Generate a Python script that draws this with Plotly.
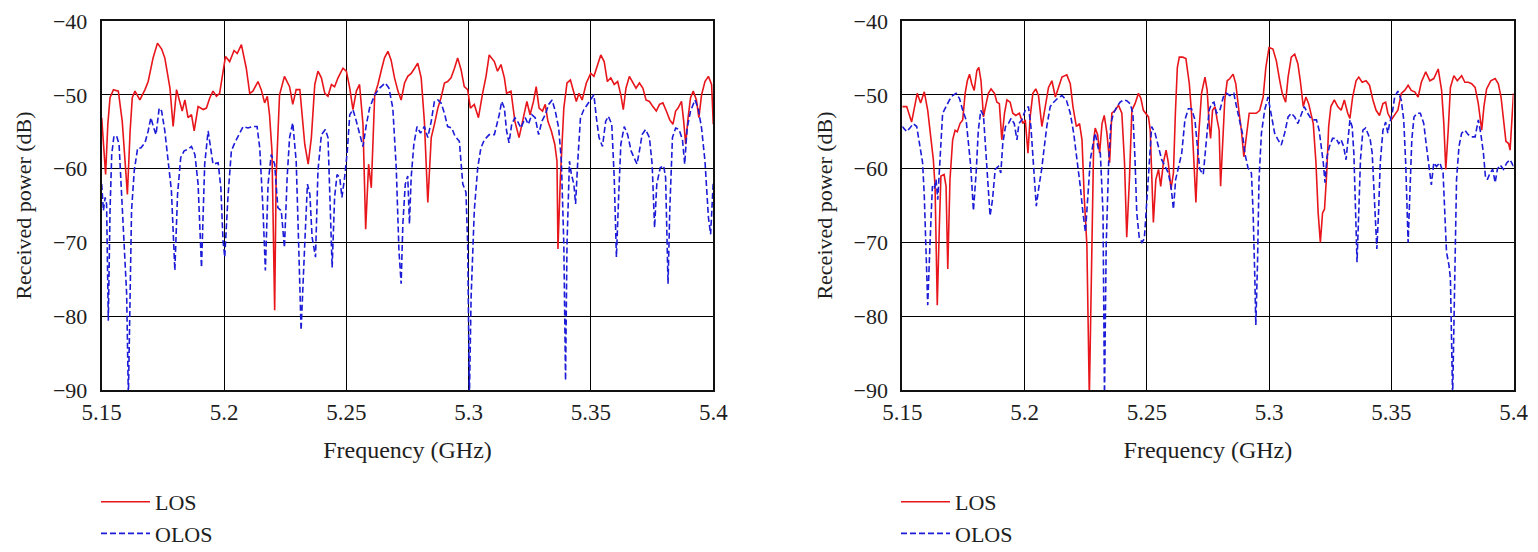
import plotly.graph_objects as go

# ---------------- data (frequency in GHz, received power in dB) ----------------
left_los_f = [5.1500, 5.1508, 5.1516, 5.1525, 5.1534, 5.1548, 5.1568, 5.1584, 5.1605, 5.1616,
              5.1625, 5.1636, 5.1656, 5.1677, 5.1690, 5.1710, 5.1728, 5.1745, 5.1758, 5.1779,
              5.1792, 5.1806, 5.1819, 5.1829, 5.1840, 5.1853, 5.1867, 5.1878, 5.1894, 5.1915,
              5.1928, 5.1942, 5.1955, 5.1969, 5.1982, 5.1996, 5.2006, 5.2023, 5.2041, 5.2054,
              5.2071, 5.2091, 5.2105, 5.2118, 5.2139, 5.2152, 5.2166, 5.2177, 5.2186, 5.2196,
              5.2207, 5.2213, 5.2227, 5.2247, 5.2268, 5.2281, 5.2295, 5.2310, 5.2317, 5.2330,
              5.2344, 5.2357, 5.2371, 5.2384, 5.2398, 5.2412, 5.2425, 5.2439, 5.2452, 5.2466,
              5.2486, 5.2500, 5.2514, 5.2527, 5.2541, 5.2554, 5.2568, 5.2579, 5.2591, 5.2602,
              5.2616, 5.2629, 5.2645, 5.2656, 5.2670, 5.2683, 5.2697, 5.2711, 5.2724, 5.2738,
              5.2751, 5.2765, 5.2779, 5.2792, 5.2806, 5.2819, 5.2833, 5.2847, 5.2860, 5.2874,
              5.2887, 5.2901, 5.2914, 5.2928, 5.2942, 5.2955, 5.2969, 5.2982, 5.2996, 5.3007,
              5.3023, 5.3040, 5.3057, 5.3071, 5.3084, 5.3105, 5.3118, 5.3132, 5.3146, 5.3155,
              5.3173, 5.3189, 5.3206, 5.3220, 5.3238, 5.3251, 5.3265, 5.3276, 5.3288, 5.3302,
              5.3313, 5.3324, 5.3338, 5.3352, 5.3361, 5.3365, 5.3375, 5.3389, 5.3402, 5.3416,
              5.3430, 5.3440, 5.3451, 5.3464, 5.3481, 5.3499, 5.3512, 5.3526, 5.3540, 5.3554,
              5.3567, 5.3581, 5.3595, 5.3609, 5.3622, 5.3632, 5.3643, 5.3657, 5.3670, 5.3684,
              5.3698, 5.3712, 5.3725, 5.3739, 5.3753, 5.3767, 5.3780, 5.3794, 5.3808, 5.3822,
              5.3835, 5.3846, 5.3856, 5.3870, 5.3879, 5.3887, 5.3897, 5.3907, 5.3918, 5.3931,
              5.3941, 5.3952, 5.3966, 5.3980, 5.3993, 5.4000]
left_los_db = [-53.1, -57.0, -60.8, -54.0, -50.4, -49.3, -49.5, -53.6, -63.5, -55.0,
               -50.4, -49.5, -50.7, -49.3, -48.2, -45.0, -43.0, -43.8, -45.0, -49.1,
               -54.3, -49.3, -50.9, -52.2, -50.7, -53.1, -52.7, -54.9, -51.6, -52.0,
               -51.8, -50.4, -49.5, -50.2, -49.8, -46.8, -44.8, -45.5, -44.0, -44.4,
               -43.2, -46.4, -49.8, -49.5, -48.2, -49.3, -51.1, -50.2, -52.7, -57.6,
               -79.2, -61.2, -50.0, -47.5, -48.9, -51.3, -49.3, -49.3, -52.2, -56.7,
               -59.4, -55.8, -48.6, -46.8, -47.7, -49.8, -50.2, -48.6, -48.9, -47.7,
               -46.4, -46.8, -49.1, -52.0, -49.5, -48.6, -54.0, -68.2, -59.4, -62.6,
               -50.0, -48.6, -46.4, -45.0, -44.1, -45.3, -47.7, -49.5, -50.7, -48.4,
               -47.5, -47.1, -46.4, -45.7, -47.7, -53.6, -64.6, -55.8, -54.0, -51.8,
               -50.4, -48.4, -48.2, -47.7, -46.4, -45.0, -46.6, -48.9, -49.3, -51.8,
               -51.3, -53.1, -49.8, -47.5, -44.6, -45.5, -46.8, -45.9, -47.7, -49.8,
               -49.5, -53.6, -55.8, -53.6, -50.9, -52.7, -50.9, -48.9, -51.8, -52.2,
               -51.3, -53.6, -54.9, -56.7, -59.0, -70.9, -61.2, -51.8, -48.4, -48.0,
               -49.5, -50.9, -49.8, -50.7, -48.4, -47.1, -47.5, -46.2, -44.6, -45.5,
               -48.2, -47.7, -48.6, -48.2, -50.0, -52.0, -49.1, -47.5, -48.2, -49.1,
               -48.4, -49.1, -50.7, -50.9, -51.6, -52.2, -51.3, -51.1, -52.2, -53.4,
               -54.0, -52.2, -51.8, -50.9, -53.6, -56.7, -53.1, -50.4, -49.5, -50.7,
               -53.1, -50.0, -48.2, -47.5, -48.6, -54.0]

left_olos_f = [5.1500, 5.1507, 5.1514, 5.1520, 5.1527, 5.1534, 5.1541, 5.1550, 5.1561, 5.1571,
               5.1582, 5.1592, 5.1602, 5.1609, 5.1616, 5.1622, 5.1633, 5.1647, 5.1660, 5.1677,
               5.1690, 5.1701, 5.1711, 5.1722, 5.1735, 5.1745, 5.1758, 5.1772, 5.1785, 5.1799,
               5.1810, 5.1823, 5.1837, 5.1851, 5.1867, 5.1881, 5.1894, 5.1908, 5.1921, 5.1935,
               5.1944, 5.1955, 5.1976, 5.1987, 5.1996, 5.2003, 5.2016, 5.2030, 5.2044, 5.2060,
               5.2078, 5.2098, 5.2118, 5.2135, 5.2146, 5.2159, 5.2169, 5.2180, 5.2193, 5.2207,
               5.2220, 5.2234, 5.2247, 5.2258, 5.2268, 5.2281, 5.2295, 5.2305, 5.2315, 5.2330,
               5.2341, 5.2351, 5.2360, 5.2374, 5.2384, 5.2398, 5.2414, 5.2425, 5.2433, 5.2442,
               5.2452, 5.2462, 5.2473, 5.2482, 5.2493, 5.2504, 5.2514, 5.2527, 5.2541, 5.2554,
               5.2568, 5.2582, 5.2595, 5.2616, 5.2636, 5.2659, 5.2674, 5.2690, 5.2704, 5.2715,
               5.2724, 5.2731, 5.2741, 5.2751, 5.2758, 5.2765, 5.2776, 5.2789, 5.2803, 5.2819,
               5.2833, 5.2847, 5.2860, 5.2874, 5.2887, 5.2901, 5.2914, 5.2931, 5.2944, 5.2962,
               5.2976, 5.2989, 5.2996, 5.3003, 5.3010, 5.3023, 5.3037, 5.3050, 5.3064, 5.3084,
               5.3105, 5.3125, 5.3135, 5.3146, 5.3155, 5.3165, 5.3176, 5.3189, 5.3200, 5.3214,
               5.3231, 5.3244, 5.3258, 5.3272, 5.3286, 5.3299, 5.3313, 5.3327, 5.3341, 5.3354,
               5.3368, 5.3379, 5.3389, 5.3396, 5.3402, 5.3412, 5.3420, 5.3430, 5.3437, 5.3446,
               5.3457, 5.3471, 5.3485, 5.3503, 5.3512, 5.3522, 5.3533, 5.3547, 5.3560, 5.3571,
               5.3585, 5.3595, 5.3604, 5.3613, 5.3622, 5.3636, 5.3650, 5.3664, 5.3677, 5.3688,
               5.3698, 5.3709, 5.3723, 5.3739, 5.3750, 5.3760, 5.3769, 5.3783, 5.3797, 5.3805,
               5.3815, 5.3822, 5.3833, 5.3846, 5.3860, 5.3874, 5.3883, 5.3893, 5.3907, 5.3925,
               5.3938, 5.3952, 5.3966, 5.3980, 5.3989, 5.4000]
left_olos_db = [-62.1, -65.7, -63.9, -64.8, -80.6, -65.7, -58.1, -55.6, -55.6, -56.7,
                -63.9, -70.2, -77.0, -91.0, -74.7, -65.7, -60.3, -57.2, -57.2, -56.5,
                -54.9, -53.1, -54.3, -55.4, -51.8, -52.2, -54.9, -59.0, -63.0, -73.8,
                -63.5, -58.5, -57.6, -57.4, -57.0, -58.1, -62.1, -73.4, -59.4, -54.9,
                -56.7, -59.4, -59.2, -62.6, -69.8, -72.0, -63.9, -57.6, -56.5, -55.4,
                -54.3, -54.5, -54.3, -54.3, -57.2, -65.3, -73.8, -62.1, -58.1, -59.4,
                -65.3, -65.7, -70.7, -61.2, -55.8, -53.8, -59.0, -70.2, -81.9, -70.2,
                -62.1, -63.5, -69.3, -72.0, -60.3, -55.4, -54.7, -55.8, -63.5, -73.4,
                -63.9, -60.8, -61.2, -63.9, -61.2, -57.6, -52.7, -52.0, -53.6, -55.4,
                -57.0, -54.0, -51.8, -50.0, -49.1, -48.4, -49.1, -51.8, -59.9, -71.1,
                -75.6, -67.5, -62.1, -61.0, -67.5, -61.2, -56.7, -54.3, -55.2, -54.3,
                -55.8, -53.6, -50.9, -50.7, -51.1, -52.5, -54.3, -54.5, -55.6, -56.3,
                -62.1, -63.2, -70.2, -91.0, -77.4, -65.7, -59.9, -57.2, -56.1, -55.4,
                -55.4, -52.7, -50.9, -51.8, -54.9, -56.5, -54.0, -53.1, -53.6, -54.5,
                -53.1, -54.0, -52.7, -53.1, -55.4, -53.6, -52.7, -51.3, -50.7, -52.2,
                -54.5, -59.0, -70.2, -88.7, -70.2, -59.0, -60.8, -62.1, -64.8, -59.0,
                -53.1, -52.0, -51.3, -50.4, -50.0, -53.1, -55.8, -57.0, -53.6, -52.9,
                -54.0, -61.2, -72.0, -63.9, -56.7, -54.3, -55.4, -57.6, -58.7, -59.4,
                -57.6, -55.4, -54.7, -55.8, -59.4, -68.0, -62.1, -59.9, -59.6, -61.2,
                -75.6, -65.7, -55.8, -54.5, -54.7, -56.1, -59.4, -54.5, -52.2, -50.7,
                -51.8, -54.5, -59.0, -66.6, -68.9, -61.7]

right_los_f = [5.1500, 5.1518, 5.1538, 5.1549, 5.1561, 5.1575, 5.1590, 5.1604, 5.1616, 5.1627,
               5.1634, 5.1638, 5.1643, 5.1652, 5.1658, 5.1671, 5.1679, 5.1686, 5.1695, 5.1706,
               5.1716, 5.1725, 5.1736, 5.1747, 5.1757, 5.1766, 5.1775, 5.1784, 5.1794, 5.1805,
               5.1813, 5.1822, 5.1832, 5.1843, 5.1852, 5.1863, 5.1877, 5.1887, 5.1897, 5.1907,
               5.1918, 5.1928, 5.1941, 5.1952, 5.1964, 5.1979, 5.1993, 5.2003, 5.2014, 5.2023,
               5.2034, 5.2046, 5.2057, 5.2071, 5.2085, 5.2098, 5.2112, 5.2126, 5.2139, 5.2153,
               5.2173, 5.2187, 5.2198, 5.2212, 5.2225, 5.2235, 5.2244, 5.2255, 5.2265, 5.2276,
               5.2283, 5.2289, 5.2299, 5.2307, 5.2317, 5.2326, 5.2337, 5.2348, 5.2357, 5.2371,
               5.2384, 5.2398, 5.2409, 5.2418, 5.2429, 5.2439, 5.2452, 5.2466, 5.2476, 5.2486,
               5.2497, 5.2507, 5.2514, 5.2520, 5.2527, 5.2537, 5.2548, 5.2557, 5.2568, 5.2579,
               5.2588, 5.2599, 5.2609, 5.2617, 5.2625, 5.2633, 5.2647, 5.2660, 5.2674, 5.2683,
               5.2693, 5.2701, 5.2711, 5.2724, 5.2738, 5.2747, 5.2755, 5.2761, 5.2769, 5.2779,
               5.2788, 5.2796, 5.2802, 5.2810, 5.2819, 5.2829, 5.2840, 5.2853, 5.2864, 5.2878,
               5.2887, 5.2897, 5.2908, 5.2919, 5.2935, 5.2948, 5.2962, 5.2976, 5.2987, 5.3000,
               5.3016, 5.3030, 5.3044, 5.3054, 5.3068, 5.3078, 5.3091, 5.3105, 5.3118, 5.3128,
               5.3140, 5.3151, 5.3162, 5.3171, 5.3181, 5.3192, 5.3201, 5.3210, 5.3219, 5.3227,
               5.3236, 5.3244, 5.3253, 5.3267, 5.3281, 5.3295, 5.3308, 5.3322, 5.3331, 5.3342,
               5.3356, 5.3367, 5.3381, 5.3397, 5.3411, 5.3425, 5.3438, 5.3452, 5.3466, 5.3477,
               5.3486, 5.3500, 5.3514, 5.3527, 5.3541, 5.3555, 5.3569, 5.3582, 5.3596, 5.3610,
               5.3623, 5.3641, 5.3658, 5.3674, 5.3692, 5.3706, 5.3715, 5.3723, 5.3733, 5.3742,
               5.3756, 5.3770, 5.3788, 5.3801, 5.3815, 5.3829, 5.3843, 5.3856, 5.3870, 5.3879,
               5.3890, 5.3907, 5.3925, 5.3938, 5.3949, 5.3959, 5.3969, 5.3980, 5.3986, 5.4000]
right_los_db = [-51.6, -51.6, -53.7, -51.6, -49.8, -51.1, -49.6, -52.1, -55.2, -58.8,
                -62.4, -68.2, -78.5, -67.3, -61.0, -60.8, -62.4, -73.6, -61.5, -56.1,
                -54.8, -55.0, -53.9, -53.4, -49.8, -48.1, -47.2, -48.5, -49.4, -46.7,
                -46.3, -48.1, -53.0, -51.2, -49.8, -49.2, -49.8, -51.0, -51.2, -56.1,
                -52.5, -50.7, -51.0, -52.5, -52.8, -52.5, -53.9, -53.4, -57.9, -53.0,
                -49.8, -49.2, -50.1, -54.3, -51.2, -49.0, -48.1, -50.3, -49.0, -47.6,
                -47.3, -48.5, -51.6, -54.3, -53.9, -56.1, -63.7, -70.4, -91.0, -66.0,
                -56.1, -54.5, -55.4, -57.9, -53.9, -52.8, -55.2, -59.2, -52.5, -52.1,
                -51.4, -52.5, -59.2, -69.3, -61.5, -52.1, -51.2, -49.8, -50.5, -52.1,
                -52.5, -53.0, -54.8, -61.5, -67.3, -61.5, -60.1, -62.4, -59.2, -57.5,
                -59.2, -62.8, -60.6, -52.5, -46.3, -44.9, -44.9, -45.1, -48.5, -52.5,
                -59.2, -64.6, -56.1, -49.8, -47.6, -49.4, -53.9, -55.9, -52.1, -51.6,
                -53.4, -54.8, -62.4, -56.1, -50.7, -48.1, -47.8, -47.2, -48.5, -52.5,
                -54.8, -58.4, -55.2, -52.5, -52.5, -52.5, -52.1, -50.3, -46.3, -43.6,
                -43.8, -45.4, -48.1, -49.8, -51.0, -47.6, -44.9, -44.5, -45.8, -48.1,
                -51.6, -50.3, -51.2, -52.5, -53.9, -59.2, -66.0, -70.0, -66.0, -65.5,
                -60.6, -54.3, -51.6, -50.7, -51.6, -52.1, -50.7, -52.5, -53.2, -50.3,
                -48.1, -47.6, -48.3, -48.1, -48.7, -50.7, -52.1, -52.8, -51.2, -51.0,
                -52.5, -53.4, -52.8, -52.1, -49.8, -49.4, -48.7, -49.4, -49.6, -50.3,
                -48.3, -46.9, -48.1, -47.8, -46.5, -49.4, -53.9, -60.1, -54.8, -49.0,
                -47.4, -48.1, -47.4, -48.3, -48.3, -48.5, -49.0, -51.2, -54.8, -51.6,
                -49.2, -48.1, -47.8, -48.5, -50.3, -53.4, -56.3, -56.6, -57.5, -49.8]

right_olos_f = [5.1500, 5.1518, 5.1531, 5.1545, 5.1559, 5.1572, 5.1583, 5.1590, 5.1597, 5.1604,
                5.1613, 5.1623, 5.1631, 5.1638, 5.1645, 5.1652, 5.1658, 5.1665, 5.1679, 5.1693,
                5.1706, 5.1720, 5.1734, 5.1747, 5.1761, 5.1770, 5.1780, 5.1791, 5.1802, 5.1811,
                5.1821, 5.1832, 5.1843, 5.1852, 5.1859, 5.1869, 5.1880, 5.1893, 5.1903, 5.1911,
                5.1922, 5.1934, 5.1945, 5.1958, 5.1969, 5.1977, 5.1989, 5.2003, 5.2016, 5.2026,
                5.2037, 5.2048, 5.2059, 5.2070, 5.2081, 5.2091, 5.2105, 5.2119, 5.2135, 5.2153,
                5.2171, 5.2187, 5.2201, 5.2214, 5.2228, 5.2239, 5.2249, 5.2258, 5.2269, 5.2283,
                5.2289, 5.2303, 5.2310, 5.2321, 5.2327, 5.2334, 5.2344, 5.2353, 5.2364, 5.2378,
                5.2391, 5.2405, 5.2418, 5.2432, 5.2443, 5.2452, 5.2459, 5.2469, 5.2480, 5.2490,
                5.2500, 5.2510, 5.2520, 5.2534, 5.2548, 5.2561, 5.2575, 5.2588, 5.2599, 5.2609,
                5.2618, 5.2629, 5.2643, 5.2656, 5.2670, 5.2683, 5.2697, 5.2707, 5.2717, 5.2731,
                5.2745, 5.2755, 5.2765, 5.2775, 5.2785, 5.2799, 5.2813, 5.2826, 5.2840, 5.2856,
                5.2867, 5.2878, 5.2891, 5.2901, 5.2914, 5.2928, 5.2935, 5.2942, 5.2946, 5.2953,
                5.2959, 5.2969, 5.2982, 5.2996, 5.3010, 5.3023, 5.3037, 5.3050, 5.3064, 5.3078,
                5.3091, 5.3105, 5.3118, 5.3132, 5.3144, 5.3158, 5.3171, 5.3185, 5.3194, 5.3205,
                5.3215, 5.3222, 5.3229, 5.3237, 5.3247, 5.3260, 5.3274, 5.3285, 5.3295, 5.3305,
                5.3315, 5.3325, 5.3331, 5.3340, 5.3347, 5.3353, 5.3360, 5.3367, 5.3374, 5.3384,
                5.3395, 5.3404, 5.3414, 5.3422, 5.3429, 5.3436, 5.3441, 5.3448, 5.3455, 5.3466,
                5.3477, 5.3486, 5.3493, 5.3504, 5.3514, 5.3527, 5.3541, 5.3551, 5.3559, 5.3569,
                5.3575, 5.3584, 5.3593, 5.3605, 5.3619, 5.3633, 5.3644, 5.3655, 5.3664, 5.3674,
                5.3685, 5.3699, 5.3712, 5.3719, 5.3726, 5.3736, 5.3742, 5.3751, 5.3759, 5.3767,
                5.3777, 5.3788, 5.3801, 5.3815, 5.3829, 5.3843, 5.3856, 5.3866, 5.3877, 5.3885,
                5.3893, 5.3904, 5.3915, 5.3925, 5.3934, 5.3945, 5.3959, 5.3973, 5.3986, 5.4000]
right_olos_db = [-54.3, -55.0, -54.5, -53.9, -54.3, -57.0, -59.2, -63.7, -70.4, -78.5,
                 -70.4, -62.4, -62.8, -61.5, -64.2, -60.1, -56.1, -52.5, -51.6, -50.7,
                 -50.1, -49.8, -50.5, -52.1, -53.4, -56.1, -59.7, -65.7, -60.6, -54.8,
                 -52.1, -52.8, -57.9, -62.4, -66.4, -64.2, -60.1, -59.7, -60.6, -56.6,
                 -54.3, -53.9, -53.2, -53.9, -56.1, -53.9, -53.4, -52.1, -51.6, -54.3,
                 -59.7, -65.1, -62.4, -60.1, -57.0, -54.3, -51.6, -51.0, -50.5, -50.1,
                 -50.7, -52.5, -55.2, -58.4, -62.4, -66.0, -68.6, -64.2, -58.8, -56.1,
                 -55.2, -57.5, -57.9, -66.0, -91.0, -70.4, -59.2, -53.9, -52.5, -51.6,
                 -51.0, -50.7, -50.8, -51.2, -52.5, -58.8, -66.0, -69.3, -70.0, -69.5,
                 -64.2, -58.4, -54.3, -55.2, -57.0, -58.8, -59.7, -60.6, -62.4, -65.5,
                 -61.5, -59.7, -57.9, -53.4, -51.9, -51.9, -53.4, -57.0, -60.1, -60.8,
                 -56.1, -52.1, -51.2, -51.0, -52.5, -52.1, -50.3, -49.8, -50.1, -49.8,
                 -51.6, -53.4, -55.2, -57.9, -59.9, -60.6, -66.0, -74.9, -81.2, -72.7,
                 -61.5, -55.2, -52.1, -50.3, -53.0, -55.2, -56.1, -56.8, -55.2, -53.0,
                 -52.5, -53.0, -53.9, -52.5, -51.6, -52.5, -53.2, -53.4, -53.4, -54.8,
                 -57.0, -59.2, -61.9, -58.4, -57.0, -55.9, -55.9, -56.6, -56.1, -57.0,
                 -58.8, -55.2, -53.4, -54.3, -57.9, -64.6, -72.7, -66.0, -58.8, -54.8,
                 -54.5, -55.2, -56.1, -57.9, -62.8, -68.2, -70.9, -66.0, -59.2, -54.8,
                 -53.7, -55.2, -53.9, -52.5, -50.3, -49.5, -50.7, -53.4, -59.2, -70.0,
                 -63.7, -56.1, -53.0, -52.5, -52.5, -53.9, -57.0, -60.1, -62.2, -59.2,
                 -59.7, -59.2, -60.6, -66.0, -71.3, -73.1, -74.9, -91.0, -74.9, -61.5,
                 -57.0, -55.2, -54.8, -55.4, -55.7, -55.7, -53.4, -55.2, -57.9, -61.0,
                 -61.5, -60.6, -60.1, -61.9, -60.1, -59.5, -60.1, -59.2, -58.8, -59.7]

series_names = ["LOS", "OLOS"]
x_tick_vals = [5.15, 5.2, 5.25, 5.3, 5.35, 5.4]
x_tick_text = ["5.15", "5.2", "5.25", "5.3", "5.35", "5.4"]
y_tick_vals = [-90, -80, -70, -60, -50, -40]

# ---------------- styling ----------------
FONT = "Liberation Serif, Times New Roman, serif"
TXT = "#1e1e1e"
RED = "#e8151b"
BLUE = "#1c1cd8"
OFF = 8                      # page body margin added by the browser
W, H = 1538 - OFF, 552 - OFF
ML, MR, MT, MB = 92, 24, 13, 162
PW, PH = W - ML - MR, H - MT - MB


def px_x(px):
    """reference-page x pixel -> paper fraction"""
    return (px - OFF - ML) / PW


def px_y(py):
    """reference-page y pixel -> paper fraction"""
    return (H - MB - (py - OFF)) / PH


fig = go.Figure()

panels = [
    (left_los_f, left_los_db, left_olos_f, left_olos_db, "x", "y", "legend"),
    (right_los_f, right_los_db, right_olos_f, right_olos_db, "x2", "y2", "legend2"),
]
for lf, ldb, of, odb, xa, ya, lg in panels:
    fig.add_trace(go.Scatter(x=lf, y=ldb, mode="lines", name=series_names[0],
                             line=dict(color=RED, width=1.6), xaxis=xa, yaxis=ya,
                             legend=lg))
    fig.add_trace(go.Scatter(x=of, y=odb, mode="lines", name=series_names[1],
                             line=dict(color=BLUE, width=1.6, dash="6px,3px"),
                             xaxis=xa, yaxis=ya, legend=lg))

x_doms = [[px_x(101.7), px_x(713.3)], [px_x(902.3), px_x(1513.5)]]

axis_common = dict(showline=True, linecolor="#111", linewidth=2, mirror=True,
                   showgrid=True, gridcolor="black", gridwidth=1.3, zeroline=False,
                   automargin=False, ticks="", ticklabeloverflow="allow",
                   tickfont=dict(family=FONT, size=22, color=TXT))

xa_cfg = dict(axis_common, range=[5.15, 5.4], tickvals=x_tick_vals, ticktext=x_tick_text,
              tickfont=dict(family=FONT, size=23, color=TXT),
              title=dict(text="Frequency (GHz)", font=dict(family=FONT, size=24, color=TXT),
                         standoff=18))
ya_cfg = dict(axis_common, range=[-90, -40], tickvals=y_tick_vals, ticklabelstandoff=8,
              title=dict(text="Received power (dB)", font=dict(family=FONT, size=22, color=TXT),
                         standoff=15))

legend_common = dict(font=dict(family=FONT, size=22, color=TXT), bgcolor="rgba(0,0,0,0)",
                     xanchor="left", yanchor="top", tracegroupgap=0, itemwidth=49)

fig.update_layout(
    width=W, height=H,
    margin=dict(l=ML, r=MR, t=MT, b=MB, autoexpand=False),
    paper_bgcolor="white", plot_bgcolor="white",
    xaxis=dict(xa_cfg, domain=x_doms[0], anchor="y"),
    yaxis=dict(ya_cfg, domain=[0, 1], anchor="x"),
    xaxis2=dict(xa_cfg, domain=x_doms[1], anchor="y2"),
    yaxis2=dict(ya_cfg, domain=[0, 1], anchor="x2"),
    legend=dict(legend_common, x=px_x(96), y=px_y(481)),
    legend2=dict(legend_common, x=px_x(896), y=px_y(481)),
    showlegend=True,
)

fig.write_html("out.html")
